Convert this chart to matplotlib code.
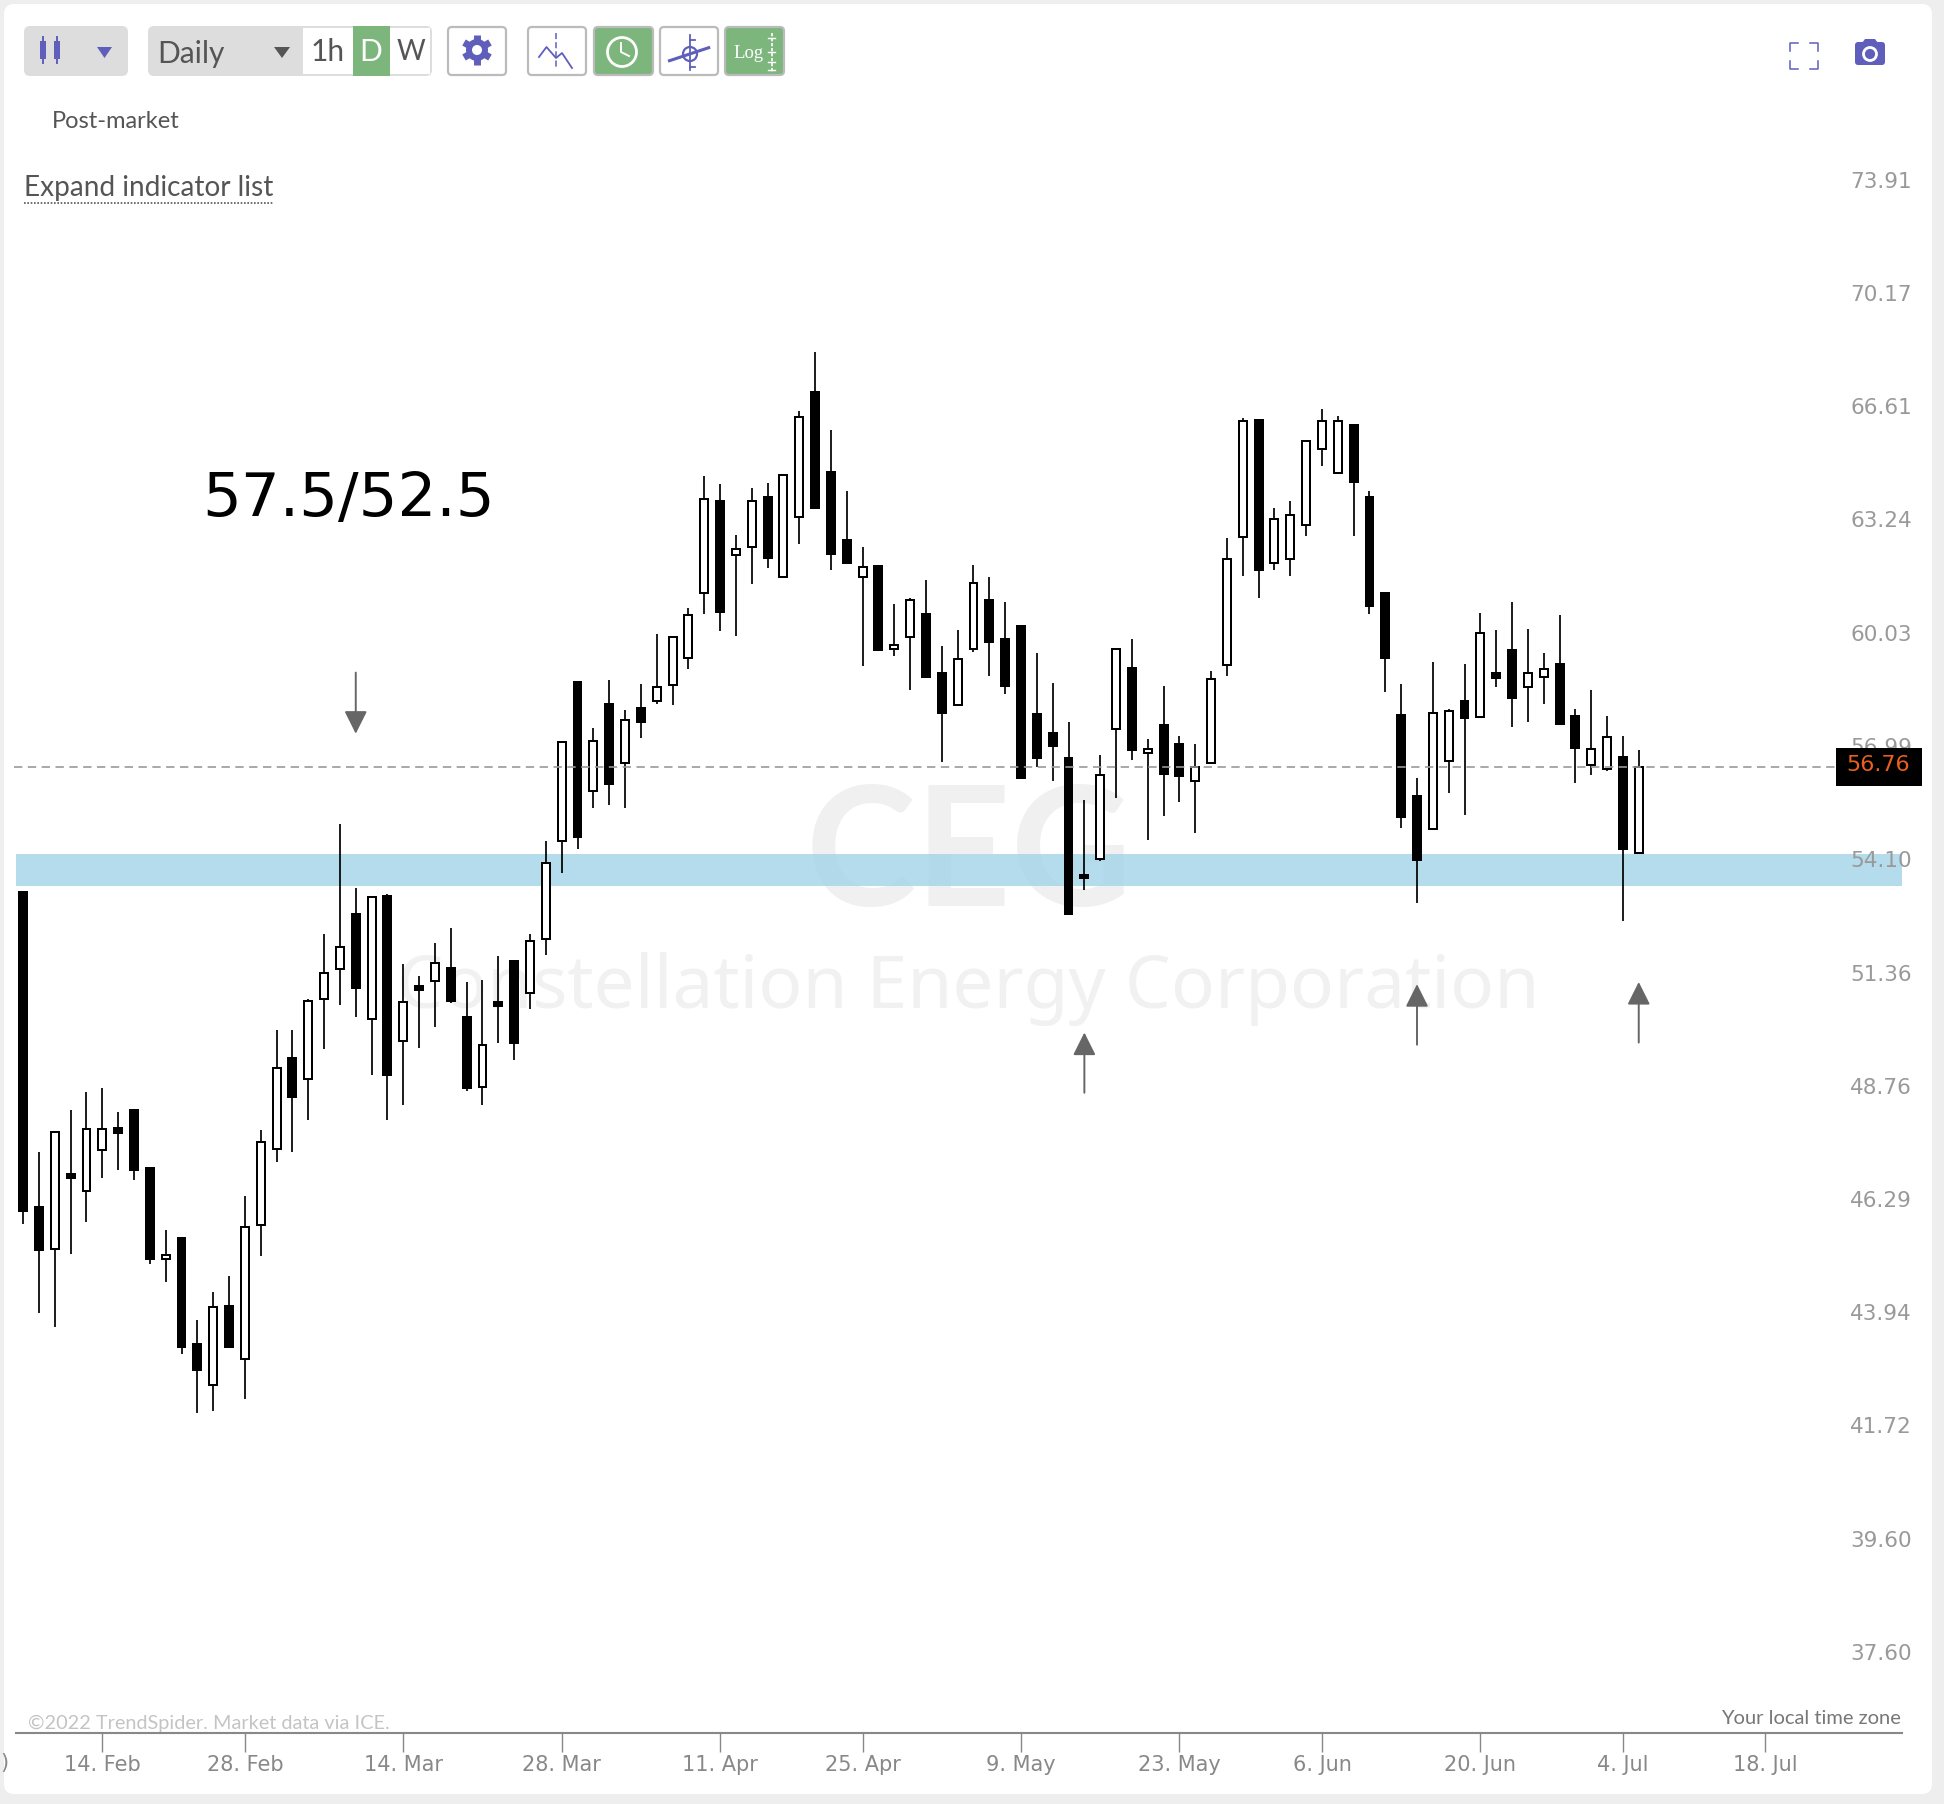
import math
import matplotlib
matplotlib.use('Agg')
import matplotlib.pyplot as plt
import pandas as pd
from matplotlib.patches import FancyBboxPatch, Rectangle, Circle, Polygon
from matplotlib.transforms import ScaledTranslation

# daily candles
opens = [53.60, 46.39, 45.49, 47.08, 46.73, 47.62, 48.10, 48.49, 47.21, 45.29, 45.72, 43.55, 42.74, 44.32, 43.25,
         46.00, 47.63, 49.66, 49.19, 51.02, 51.73, 53.05, 50.56, 53.49, 50.06, 51.34, 51.45, 51.75, 50.62, 49.00,
         50.97, 51.94, 51.17, 52.45, 54.87, 59.03, 56.14, 58.42, 56.87, 58.32, 58.50, 58.94, 59.69, 61.48, 64.15,
         62.58, 62.80, 64.27, 61.93, 63.66, 67.42, 64.99, 62.99, 61.93, 62.25, 59.92, 60.25, 60.89, 59.28, 58.40,
         59.92, 61.29, 60.21, 60.56, 58.16, 57.67, 56.99, 54.03, 54.41, 57.76, 59.40, 57.12, 57.88, 57.36, 56.39,
         56.86, 59.48, 63.08, 66.57, 62.34, 62.45, 63.44, 65.68, 64.97, 66.43, 64.27, 61.50, 58.14, 56.01, 55.17,
         56.92, 58.52, 58.08, 59.28, 59.89, 58.89, 59.16, 59.51, 58.10, 56.81, 56.71, 57.04, 54.56]
highs = [53.62, 47.56, 48.00, 48.49, 48.90, 48.98, 48.44, 48.49, 47.21, 45.89, 45.72, 44.03, 44.61, 44.93, 46.61,
         48.05, 50.30, 50.30, 51.04, 52.57, 55.30, 53.69, 53.48, 53.55, 51.85, 51.56, 52.37, 52.71, 51.42, 51.47,
         52.04, 51.94, 52.57, 54.88, 57.41, 59.03, 57.79, 59.08, 58.26, 58.97, 60.33, 60.27, 61.06, 64.87, 64.63,
         63.16, 64.51, 64.68, 64.92, 66.86, 68.69, 66.26, 64.45, 62.81, 62.25, 61.18, 61.34, 61.85, 60.00, 60.44,
         62.29, 61.95, 61.22, 60.56, 59.83, 59.01, 57.94, 55.90, 57.09, 59.93, 60.21, 57.51, 58.91, 57.57, 57.36,
         59.33, 63.05, 66.62, 66.57, 63.92, 64.15, 65.93, 66.92, 66.68, 66.43, 64.45, 61.50, 58.96, 56.47, 59.56,
         58.31, 59.51, 60.93, 60.44, 61.22, 60.49, 59.83, 60.88, 58.30, 58.80, 58.10, 57.57, 57.20]
lows = [46.02, 44.17, 43.90, 45.40, 46.06, 47.01, 47.18, 46.97, 45.19, 44.82, 43.36, 42.20, 42.23, 43.48, 42.46,
        45.36, 47.36, 47.57, 48.28, 49.87, 50.88, 50.60, 49.27, 48.28, 48.60, 49.90, 50.37, 50.93, 48.91, 48.60,
        50.00, 49.63, 50.79, 52.06, 54.06, 54.66, 55.72, 55.78, 55.72, 57.54, 58.44, 58.40, 59.37, 60.91, 60.41,
        60.29, 61.75, 62.21, 61.93, 62.89, 63.94, 62.15, 62.33, 59.45, 59.90, 59.74, 58.81, 59.15, 56.90, 58.40,
        59.85, 59.20, 58.71, 56.48, 56.77, 56.39, 53.07, 53.66, 54.36, 55.97, 56.95, 54.90, 55.51, 55.87, 55.06,
        56.86, 59.20, 61.97, 61.36, 62.15, 61.97, 63.13, 65.18, 64.97, 63.13, 60.91, 58.76, 55.21, 53.32, 55.17,
        56.08, 55.52, 58.08, 58.88, 57.81, 57.96, 58.44, 57.86, 56.34, 56.55, 56.65, 52.88, 54.56]
closes = [46.29, 45.48, 48.00, 47.01, 48.08, 48.08, 47.98, 47.18, 45.28, 45.38, 43.49, 43.04, 44.31, 43.49, 45.96,
          47.78, 49.43, 48.78, 50.99, 51.65, 52.27, 51.30, 53.48, 49.27, 50.95, 51.25, 51.89, 50.98, 48.99, 49.97,
          50.87, 50.00, 52.41, 54.32, 57.41, 54.96, 57.46, 56.33, 58.00, 57.96, 58.90, 60.27, 60.88, 64.20, 60.96,
          62.74, 64.15, 62.48, 64.92, 66.67, 63.94, 62.60, 62.33, 62.23, 59.90, 60.04, 61.28, 59.15, 58.18, 59.65,
          61.78, 60.13, 58.93, 56.48, 57.01, 57.32, 53.07, 53.95, 56.56, 59.93, 57.22, 57.24, 56.59, 56.54, 56.76,
          59.11, 62.46, 66.55, 62.15, 63.62, 63.73, 65.93, 66.53, 66.53, 64.71, 61.13, 59.69, 55.47, 54.40, 58.20,
          58.25, 58.07, 60.37, 59.14, 58.60, 59.27, 59.39, 57.91, 57.27, 57.24, 57.56, 54.66, 56.76]

# market closed on these days, so they take no slot on the axis
holidays = ['2022-02-21', '2022-04-15', '2022-05-30', '2022-06-20', '2022-07-04']
x_dates = ['2022-02-14', '2022-02-28', '2022-03-14', '2022-03-28', '2022-04-11', '2022-04-25',
           '2022-05-09', '2022-05-23', '2022-06-06', '2022-06-20', '2022-07-04', '2022-07-18']
x_labels = ['14. Feb', '28. Feb', '14. Mar', '28. Mar', '11. Apr', '25. Apr',
            '9. May', '23. May', '6. Jun', '20. Jun', '4. Jul', '18. Jul']

y_ticks = [73.91, 70.17, 66.61, 63.24, 60.03, 56.99, 54.10, 51.36, 48.76, 46.29, 43.94, 41.72, 39.60, 37.60]

last_close = 56.76
zone_low = 53.75
zone_high = 54.55

# hand drawn arrows on the chart: candle number, tail price, tip price
arrow_candle = [21, 67, 88, 102]
arrow_tail = [59.28, 48.88, 49.97, 50.02]
arrow_tip = [57.64, 50.25, 51.38, 51.43]

PURPLE = '#5f5fbb'
GREEN = '#7cb67c'
TEXT = '#555555'
UI_FONT = 'Lato'

fig = plt.figure(figsize=(19.44, 18.04), dpi=100, facecolor='#eeeeee')


def px(v):
    return v * 0.72


# page behind the chart, in screen pixels
ui = fig.add_axes([0, 0, 1, 1], zorder=0)
ui.set_xlim(0, 1944)
ui.set_ylim(1804, 0)
ui.axis('off')
ui.add_patch(FancyBboxPatch((4, 4), 1928, 1790, boxstyle='round,pad=0,rounding_size=10', fc='white', ec='none'))


def button(x0, x1, fc='white', ec='#bbbbbb'):
    ui.add_patch(FancyBboxPatch((x0, 27), x1 - x0, 48, boxstyle='round,pad=0,rounding_size=4', fc=fc, ec=ec, lw=1.6))


# chart type selector
ui.add_patch(FancyBboxPatch((24, 26), 104, 50, boxstyle='round,pad=0,rounding_size=6', fc='#dddddd', ec='none'))
for cx in (43, 57):
    ui.plot([cx, cx], [37, 63], color=PURPLE, lw=1.4)
    ui.add_patch(Rectangle((cx - 3, 41), 6, 18, fc=PURPLE, ec='none'))
ui.add_patch(Polygon([(97, 47), (112, 47), (104.5, 58)], fc=PURPLE, ec='none'))

# interval selector
ui.add_patch(FancyBboxPatch((148, 26), 284, 50, boxstyle='round,pad=0,rounding_size=6', fc='#dddddd', ec='none'))
ui.add_patch(Rectangle((303, 28), 127, 46, fc='white', ec='none'))
ui.add_patch(Rectangle((353, 26), 37, 50, fc=GREEN, ec='none'))
ui.add_patch(Polygon([(274, 47), (290, 47), (282, 58)], fc=TEXT, ec='none'))
ui.text(157, 54, 'Daily', fontsize=21.5, color=TEXT, family=UI_FONT, va='center')
ui.text(328, 52, '1h', fontsize=21.5, color=TEXT, family=UI_FONT, va='center', ha='center')
ui.text(371, 52, 'D', fontsize=21.5, color='white', family=UI_FONT, va='center', ha='center')
ui.text(411, 52, 'W', fontsize=20, color=TEXT, family=UI_FONT, va='center', ha='center')

# gear
button(448, 506)
ui.add_patch(Circle((477, 50), 11, fc=PURPLE, ec='none'))
for k in range(6):
    a = math.radians(30 + 60 * k)
    ui.plot([477 + 9 * math.cos(a), 477 + 15 * math.cos(a)], [50 + 9 * math.sin(a), 50 + 15 * math.sin(a)],
            color=PURPLE, lw=5, solid_capstyle='butt')
ui.add_patch(Circle((477, 50), 5, fc='white', ec='none'))

# drawing tools
button(528, 586)
ui.plot([539, 546.5, 556, 562, 572], [57, 47, 58, 53, 68], color=PURPLE, lw=1.3)
ui.plot([556, 556], [33, 69], color=PURPLE, lw=1.1, ls=(0, (4, 2)))

button(594, 653, fc=GREEN)
ui.add_patch(Circle((622, 52), 14.5, fc='none', ec='white', lw=2))
ui.plot([621, 621, 629], [43, 52, 56], color='white', lw=1.4)

button(660, 718)
ui.plot([669.5, 708.7], [60.7, 47.7], color=PURPLE, lw=2.2)
ui.add_patch(Circle((690, 54), 7, fc='none', ec=PURPLE, lw=1.6))
ui.plot([690, 690], [35, 70], color=PURPLE, lw=1.3)
ui.plot([690, 695], [40, 40], color=PURPLE, lw=1.3)
ui.plot([690, 695], [67, 67], color=PURPLE, lw=1.3)

button(725, 784, fc=GREEN)
ui.text(749, 53, 'Log', fontsize=13.5, color='white', family='Liberation Serif', va='center', ha='center')
ui.plot([771.5, 771.5], [33, 72], color='white', lw=1.2, ls=(0, (2, 1)))
for ty in (38, 52, 62, 70):
    ui.plot([768, 775], [ty, ty], color='white', lw=1)

# fullscreen corners and camera
for cx, sx in ((1790, 1), (1818, -1)):
    for cy, sy in ((43, 1), (69, -1)):
        ui.plot([cx + sx * 8, cx, cx], [cy, cy, cy + sy * 8], color=PURPLE, lw=1.1)
ui.add_patch(FancyBboxPatch((1855, 42), 30, 23, boxstyle='round,pad=0,rounding_size=3', fc=PURPLE, ec='none'))
ui.add_patch(Polygon([(1862, 43), (1865, 39), (1875, 39), (1878, 43)], fc=PURPLE, ec='none'))
ui.add_patch(Circle((1870, 54), 6.5, fc=PURPLE, ec='white', lw=2))

ui.text(52, 121, 'Post-market', fontsize=17, color=TEXT, family=UI_FONT, va='center')
ui.text(24, 188, 'Expand indicator list', fontsize=20.2, color=TEXT, family=UI_FONT, va='center')
ui.plot([24, 273], [203, 203], color=TEXT, lw=1.2, ls=(0, (1, 1)))

ui.text(202, 500, '57.5/52.5', fontsize=44, color='black', family='DejaVu Sans', va='center')

# watermark
ui.text(969, 858, 'CEG', fontsize=120, color='#f0f0f0', family='Lato', weight='bold', va='center', ha='center')
ui.text(968, 989, 'Constellation Energy Corporation', fontsize=52.5, color='#f1f1f1', family='Noto Sans',
        va='center', ha='center')

ui.text(28, 1723, '\u00a92022 TrendSpider. Market data via ICE.', fontsize=14.3, color='#c4c4c4', family=UI_FONT,
        va='center')
ui.text(1901, 1719, 'Your local time zone', fontsize=14.5, color='#777777', family=UI_FONT, va='center', ha='right')
ui.text(0, 1763, ')', fontsize=15, color='#888888', family='DejaVu Sans', va='center', ha='left')

# price chart, log scale
ax = fig.add_axes([16 / 1944, 71 / 1804, 1886 / 1944, 1733 / 1804], zorder=1)
ax.patch.set_alpha(0)
ax.set_yscale('log')

ax.axhspan(zone_low, zone_high, color='#a3d4e8', alpha=0.8, lw=0, zorder=1)

x = list(range(len(opens)))
ax.vlines(x, lows, highs, color='black', lw=1.25, zorder=2)
for i in x:
    bottom = min(opens[i], closes[i])
    height = max(abs(closes[i] - opens[i]), 0.02)
    color = 'black' if closes[i] < opens[i] else 'white'
    ax.bar(i, height, bottom=bottom, width=0.5, color=color, edgecolor='black', lw=1.44, zorder=3)

ax.plot([-0.58, 114.45], [last_close, last_close], color='#999999', lw=1.2, ls=(0, (5, 3.3)), zorder=4, clip_on=False)

for i, tail, tip in zip(arrow_candle, arrow_tail, arrow_tip):
    ax.annotate('', xy=(i, tip), xytext=(i, tail), zorder=4,
                arrowprops=dict(arrowstyle='-|>,head_length=1.0,head_width=0.5', color='#666666', lw=1.4,
                                mutation_scale=14, shrinkA=0, shrinkB=0))

ax.set_xlim(-0.45, 118.62)
ax.set_ylim(36.43, 80.73)

# trading days only, a tick on a closed day moves to the next session
days = pd.bdate_range('2022-02-07', '2022-07-18').drop(pd.to_datetime(holidays))
x_ticks = days.get_indexer(pd.to_datetime(x_dates), method='bfill')
ax.set_xticks(x_ticks, x_labels)
ax.tick_params(axis='x', length=px(19), width=1, color='#888888', labelcolor='#888888', labelsize=15, pad=2)

ax.yaxis.tick_right()
ax.set_yticks(y_ticks, [f'{t:.2f}' for t in y_ticks])
ax.minorticks_off()
ax.tick_params(axis='y', length=0, labelcolor='#999999', labelsize=15.5, pad=px(-52))
# labels sit a little above their true level
shift = ScaledTranslation(0, 12.4 / 100, fig.dpi_scale_trans)
for lab in ax.get_yticklabels():
    lab.set_transform(lab.get_transform() + shift)

for side in ('top', 'left', 'right'):
    ax.spines[side].set_visible(False)
ax.spines['bottom'].set_color('#888888')
ax.spines['bottom'].set_linewidth(1.5)

# last price box goes over the axis labels
top = fig.add_axes([0, 0, 1, 1], zorder=2)
top.set_xlim(0, 1944)
top.set_ylim(1804, 0)
top.axis('off')
top.add_patch(Rectangle((1836, 748), 86, 38, fc='black', ec='none'))
top.text(1878, 765, f'{last_close:.2f}', fontsize=16, color='#e8601c', family='DejaVu Sans', va='center', ha='center')

fig.savefig('out.png', dpi=100, facecolor=fig.get_facecolor())
